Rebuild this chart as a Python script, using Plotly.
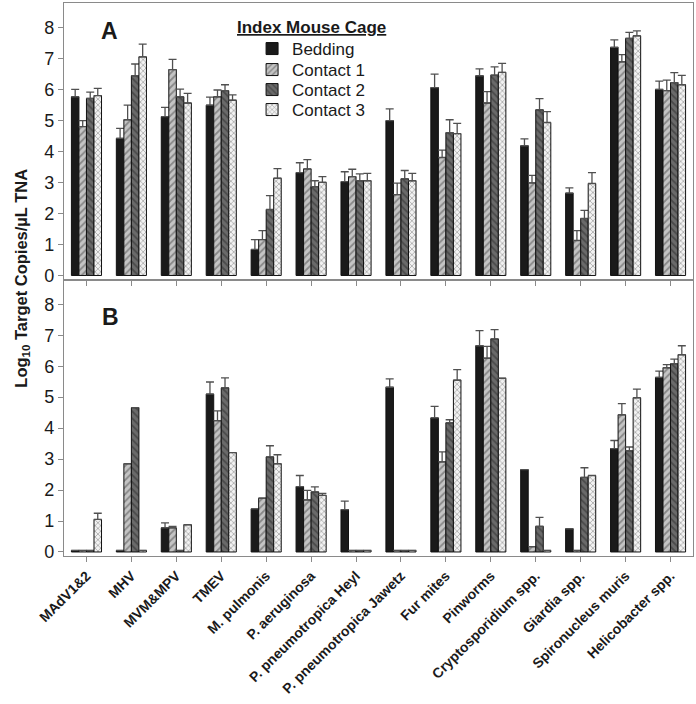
import plotly.graph_objects as go
from plotly.subplots import make_subplots

categories = ["MAdV1&2", "MHV", "MVM&MPV", "TMEV", "M. pulmonis", "P. aeruginosa",
              "P. pneumotropica Heyl", "P. pneumotropica Jawetz", "Fur mites", "Pinworms",
              "Cryptosporidium spp.", "Giardia spp.", "Spironucleus muris", "Helicobacter spp."]
series = ["Bedding", "Contact 1", "Contact 2", "Contact 3"]

# panel A: means and upper error
a_bedding = [5.77, 4.43, 5.13, 5.50, 0.84, 3.32, 3.03, 5.00, 6.07, 6.45, 4.19, 2.66, 7.37, 6.01]
a_contact1 = [4.81, 5.03, 6.65, 5.77, 1.16, 3.44, 3.19, 2.61, 3.81, 5.57, 2.99, 1.13, 6.90, 5.97]
a_contact2 = [5.72, 6.45, 5.77, 5.97, 2.13, 2.87, 3.06, 3.12, 4.61, 6.47, 5.35, 1.84, 7.66, 6.23]
a_contact3 = [5.81, 7.06, 5.57, 5.66, 3.14, 3.01, 3.06, 3.06, 4.58, 6.56, 4.94, 2.97, 7.74, 6.16]
a_err_bedding = [0.24, 0.32, 0.30, 0.26, 0.32, 0.32, 0.32, 0.38, 0.43, 0.22, 0.22, 0.17, 0.24, 0.27]
a_err_contact1 = [0.19, 0.47, 0.33, 0.22, 0.29, 0.30, 0.24, 0.37, 0.24, 0.37, 0.24, 0.32, 0.23, 0.34]
a_err_contact2 = [0.20, 0.38, 0.25, 0.19, 0.45, 0.19, 0.22, 0.27, 0.42, 0.27, 0.36, 0.26, 0.19, 0.32]
a_err_contact3 = [0.23, 0.41, 0.31, 0.17, 0.31, 0.18, 0.24, 0.24, 0.33, 0.29, 0.35, 0.35, 0.16, 0.30]

# panel B
b_bedding = [0, 0, 0.78, 5.10, 1.39, 2.11, 1.37, 5.32, 4.33, 6.66, 2.66, 0.75, 3.34, 5.64]
b_contact1 = [0, 2.85, 0.78, 4.24, 1.74, 1.68, 0, 0, 2.91, 6.26, 0.17, 0, 4.43, 5.95]
b_contact2 = [0, 4.66, 0, 5.30, 3.07, 1.94, 0, 0, 4.17, 6.88, 0.83, 2.41, 3.27, 6.08]
b_contact3 = [1.05, 0, 0.88, 3.21, 2.85, 1.83, 0, 0, 5.55, 5.61, 0, 2.47, 4.98, 6.37]
b_err_bedding = [None, None, 0.16, 0.39, None, 0.36, 0.27, 0.27, 0.37, 0.49, None, None, 0.26, 0.20]
b_err_contact1 = [None, None, 0.05, 0.32, None, 0.31, None, None, 0.32, 0.38, None, None, 0.36, 0.10]
b_err_contact2 = [None, None, None, 0.32, 0.36, 0.16, None, None, 0.10, 0.30, 0.29, 0.31, 0.12, 0.15]
b_err_contact3 = [0.20, None, None, None, 0.29, 0.06, None, None, 0.34, None, None, None, 0.28, 0.29]

styles = [
    dict(color="#1a1a1a", pattern=dict(shape="")),
    dict(color="#c4c4c4", pattern=dict(shape="/", fgcolor="#4a4a4a", bgcolor="#c4c4c4", size=5, solidity=0.35)),
    dict(color="#6a6a6a", pattern=dict(shape="\\", fgcolor="#2a2a2a", bgcolor="#6a6a6a", size=5, solidity=0.35)),
    dict(color="#e8e8e8", pattern=dict(shape="x", fgcolor="#3a3a3a", bgcolor="#f2f2f2", size=4, solidity=0.3)),
]

FONT = "Liberation Sans, Arial, sans-serif"

fig = make_subplots(rows=2, cols=1, shared_xaxes=True, vertical_spacing=0)

panels = [
    (1, [a_bedding, a_contact1, a_contact2, a_contact3],
     [a_err_bedding, a_err_contact1, a_err_contact2, a_err_contact3]),
    (2, [b_bedding, b_contact1, b_contact2, b_contact3],
     [b_err_bedding, b_err_contact1, b_err_contact2, b_err_contact3]),
]

legend_ids = ["legend", "legend2", "legend3", "legend4"]

for row, vals, errs in panels:
    for name, v, e, st, lg in zip(series, vals, errs, styles, legend_ids):
        # zero values are drawn as a thin flat bar like in the original
        shown = [x if x > 0 else 0.05 for x in v]
        fig.add_trace(go.Bar(
            x=categories, y=shown, name=name, showlegend=(row == 1), legend=lg,
            marker=dict(color=st["color"], pattern=st["pattern"],
                        line=dict(color="#111111", width=1)),
            error_y=dict(type="data", symmetric=False, array=e,
                         arrayminus=[0] * len(e), color="#505050",
                         thickness=1.3, width=4),
        ), row=row, col=1)

# one legend per entry so the rows can sit as close as in the original
legend_rows = [49, 70, 90, 110]
legends = {}
for lg, ypx in zip(legend_ids, legend_rows):
    legends[lg] = dict(x=0.299, y=(556 - ypx) / 553, xanchor="left", yanchor="middle",
                       font=dict(size=17, family=FONT), bgcolor="rgba(0,0,0,0)",
                       itemwidth=30)

fig.update_layout(
    width=696, height=704,
    margin=dict(l=64, r=3, t=3, b=148, autoexpand=False),
    paper_bgcolor="white", plot_bgcolor="white",
    barmode="group", bargap=0.33, bargroupgap=0,
    font=dict(family=FONT, color="#1a1a1a"),
    **legends,
)

axis_line = dict(showline=True, linecolor="#8a8a8a", linewidth=1.3, mirror=True,
                 showgrid=False, zeroline=False, automargin=False)
fig.update_xaxes(**axis_line, ticks="outside", ticklen=5, tickcolor="#8a8a8a")
fig.update_xaxes(showticklabels=False, row=1, col=1)
fig.update_xaxes(tickangle=-45, tickfont=dict(size=14, family=FONT, weight="bold"), row=2, col=1)
fig.update_yaxes(**axis_line, range=[-0.13, 8.8], tickvals=list(range(9)),
                 ticks="outside", ticklen=5, tickcolor="#8a8a8a",
                 tickfont=dict(size=18, family=FONT))

fig.add_annotation(text="<b>A</b>", x=0.0731, y=0.949, xref="paper", yref="paper",
                   xanchor="center", yanchor="middle",
                   showarrow=False, font=dict(size=23, family=FONT))
fig.add_annotation(text="<b>B</b>", x=0.0747, y=0.432, xref="paper", yref="paper",
                   xanchor="center", yanchor="middle",
                   showarrow=False, font=dict(size=23, family=FONT))
fig.add_annotation(text="<b><u>Index Mouse Cage</u></b>", x=0.272, y=0.9566,
                   xref="paper", yref="paper", xanchor="left", yanchor="middle",
                   showarrow=False, font=dict(size=17, family=FONT))
fig.add_annotation(text="<b>Log<sub>10</sub> Target Copies/µL TNA</b>",
                   x=-0.067, y=0.503, xref="paper", yref="paper", textangle=-90,
                   xanchor="center", yanchor="middle",
                   showarrow=False, font=dict(size=16.5, family=FONT))

# drop the page's default body margin so the figure sits at the window's corner
fig.write_html("out.html", config={"displayModeBar": False},
               post_script="document.body.style.margin='0';")
